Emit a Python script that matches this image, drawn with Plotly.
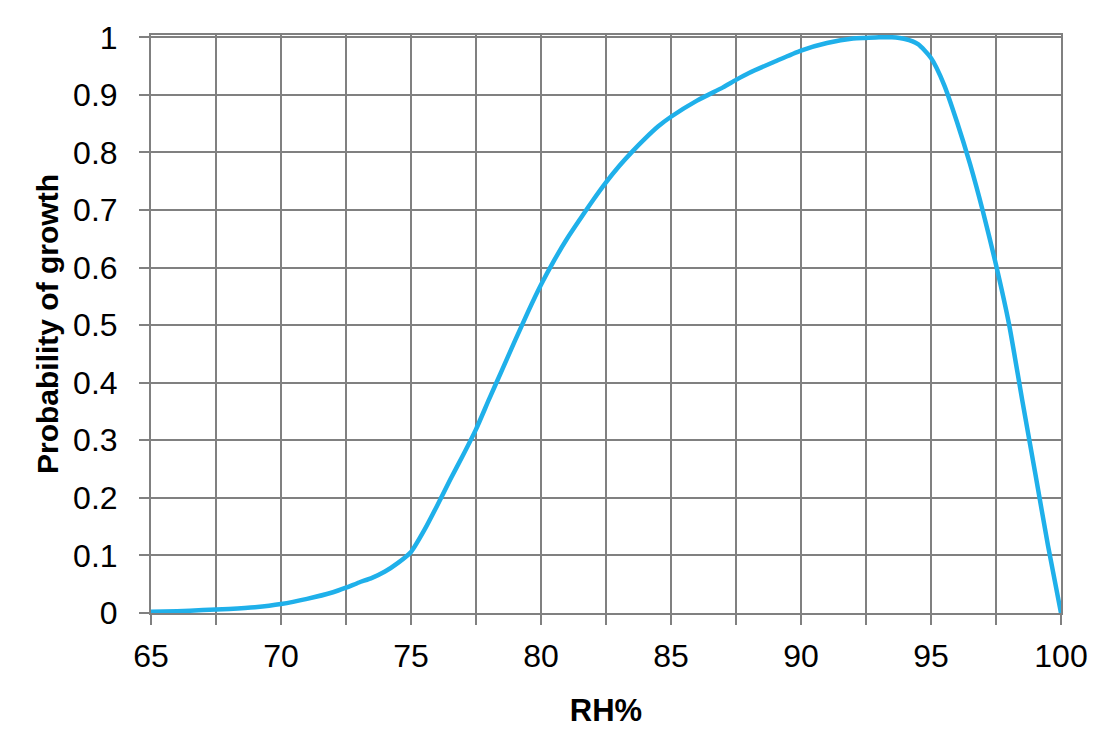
import plotly.graph_objects as go

# Data
rh = [65, 66, 67, 68, 69, 70, 71, 72, 72.5, 73, 73.5, 74, 74.5, 75, 75.5, 76, 76.5,
      77, 77.5, 78, 78.5, 79, 79.5, 80, 80.5, 81, 81.5, 82, 82.5, 83, 83.5, 84, 84.5,
      85, 86, 87, 87.5, 88, 89, 90, 91, 92, 92.5, 93, 93.5, 94, 94.5, 95, 95.5,
      96, 96.5, 97, 97.5, 98, 98.5, 99, 99.5, 100]
prob = [0.002, 0.003, 0.005, 0.007, 0.010, 0.0155, 0.0245, 0.036, 0.044, 0.053, 0.061,
        0.072, 0.087, 0.106, 0.143, 0.186, 0.231, 0.274, 0.319, 0.371, 0.422, 0.473,
        0.523, 0.570, 0.612, 0.650, 0.684, 0.717, 0.748, 0.776, 0.801, 0.824, 0.845,
        0.862, 0.890, 0.913, 0.926, 0.938, 0.958, 0.977, 0.990, 0.998, 0.999, 1.0,
        1.0, 0.997, 0.988, 0.964, 0.918, 0.853, 0.780, 0.697, 0.605, 0.502, 0.372,
        0.245, 0.117, 0.0]

x_tickvals = [65, 67.5, 70, 72.5, 75, 77.5, 80, 82.5, 85, 87.5, 90, 92.5, 95, 97.5, 100]
x_ticktext = ["65", "", "70", "", "75", "", "80", "", "85", "", "90", "", "95", "", "100"]
y_tickvals = [0, 0.1, 0.2, 0.3, 0.4, 0.5, 0.6, 0.7, 0.8, 0.9, 1.0]
y_ticktext = ["0", "0.1", "0.2", "0.3", "0.4", "0.5", "0.6", "0.7", "0.8", "0.9", "1"]

x_title = "RH%"
y_title = "Probability of growth"

GRID = "#808080"
FONT = "Liberation Sans, Arial, sans-serif"

fig = go.Figure()
fig.add_trace(go.Scatter(
    x=rh, y=prob, mode="lines",
    line=dict(color="#1FB0EA", width=4.5, shape="spline", smoothing=0.6),
    showlegend=False, hoverinfo="skip",
))

fig.update_layout(
    width=1110, height=755,
    margin=dict(l=143, r=57, t=22, b=150, pad=0),
    paper_bgcolor="white", plot_bgcolor="white",
    font=dict(family=FONT, color="black"),
    xaxis=dict(
        range=[65, 100],
        tickvals=x_tickvals, ticktext=x_ticktext,
        ticks="outside", ticklen=10, tickwidth=2, tickcolor=GRID,
        showgrid=True, gridcolor=GRID, gridwidth=2,
        showline=True, linecolor=GRID, linewidth=2, mirror=True,
        zeroline=False,
        tickfont=dict(size=32, family=FONT, color="black"),
        ticklabelstandoff=4,
        title=dict(text=x_title, font=dict(size=31, family=FONT, weight="bold", color="black"),
                   standoff=26),
    ),
    yaxis=dict(
        range=[0, 1.004],
        tickvals=y_tickvals, ticktext=y_ticktext,
        ticks="outside", ticklen=10, tickwidth=2, tickcolor=GRID,
        showgrid=True, gridcolor=GRID, gridwidth=2,
        showline=True, linecolor=GRID, linewidth=2, mirror=True,
        zeroline=False,
        tickfont=dict(size=32, family=FONT, color="black"),
        ticklabelstandoff=15,
        title=dict(text=y_title, font=dict(size=30, family=FONT, weight="bold", color="black"),
                   standoff=6),
    ),
)

fig.write_html("out.html")
